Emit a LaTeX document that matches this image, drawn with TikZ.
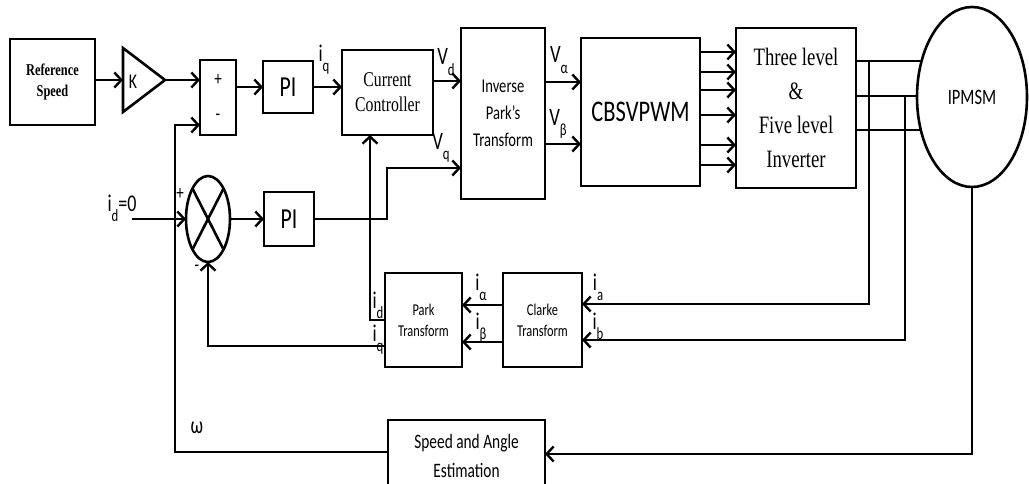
\documentclass[tikz,border=0pt]{standalone}
\usepackage{fontspec}
\setmainfont{Liberation Serif}[FakeStretch=0.75]
\newfontfamily\sansf{Carlito}[FakeStretch=0.75]
\usetikzlibrary{arrows.meta,shapes.geometric,backgrounds}
\newcommand\fsz[2]{\fontsize{#1}{#2}\selectfont}
\newcommand\subl[2]{#1\raisebox{-0.42em}{\fsz{17}{17}#2}}
\tikzset{
  ln/.style={line width=2.6pt, line join=miter},
  box/.style={draw, ln, inner sep=0pt, outer sep=0pt, align=center},
  arr/.style={ln, -{Straight Barb[length=7pt,width=15pt,line width=2.4pt]}},
  lab/.style={inner sep=0pt, font=\sansf\fsz{24}{24}},
  vlab/.style={inner sep=0pt, font=\sansf\fsz{25}{25}},
  sgn/.style={inner sep=0pt, font=\sansf\fsz{20}{20}}
}
\begin{document}
\begin{tikzpicture}[x=1pt,y=-1pt]
\useasboundingbox (0,0) rectangle (1029,483);
\clip (0,0) rectangle (1029,483);

% helper levels
\coordinate (y81) at (0,81);
\coordinate (y82) at (0,82);
\coordinate (y125) at (0,125);
\coordinate (y144) at (0,144);
\coordinate (y168) at (0,168);
\coordinate (y304) at (0,304);
\coordinate (y305) at (0,305);
\coordinate (y320) at (0,320);
\coordinate (y340) at (0,340);
\coordinate (y342) at (0,342);
\coordinate (y346) at (0,346);
\coordinate (y452) at (0,452);
\coordinate (y454) at (0,454);
\coordinate (x370) at (370,0);

% blocks
\node[box, minimum width=85, minimum height=86, font=\bfseries\fsz{16.5}{21}] (ref) at (52.5,82) {Reference\\Speed};
\draw[ln] (123,48) -- (165,80) -- (123,112) -- cycle;
\coordinate (kin) at (123,80);
\coordinate (kout) at (165,80);
\node[inner sep=0pt, font=\sansf\fsz{21}{21}] (k) at (133,82) {K};
\node[box, minimum width=36, minimum height=75] (sum) at (218,97.5) {};
\node[sgn] (plus) at (218,80) {+};
\node[sgn] (minus) at (218,117) {-};
\node[box, minimum width=50, minimum height=52, font=\sansf\fsz{29}{29}] (pi1) at (288,87) {PI};
\node[box, minimum width=91, minimum height=85, font=\fsz{21}{25}] (cc) at (387.5,92.5) {Current\\Controller};
\node[box, minimum width=84, minimum height=171, font=\sansf\fsz{19.5}{27}] (ipt) at (503,113.5) {Inverse\\Park’s\\Transform};
\node[box, minimum width=119, minimum height=148, font=\sansf\fsz{30}{30}] (cbs) at (640.5,112) {CBSVPWM};
\node[box, minimum width=120, minimum height=160, font=\fsz{25}{34}] (inv) at (796,108) {Three level\\\&\\Five level\\Inverter};
\node[draw, ln, ellipse, minimum width=110, minimum height=180, inner sep=0pt, outer sep=0pt, fill=white, font=\sansf\fsz{22}{22}] (mot) at (972,97) {IPMSM};

\node[draw, ln, ellipse, minimum width=44, minimum height=86, inner sep=0pt, outer sep=0pt] (sumc) at (208,219) {};
\draw[ln] (sumc.63) -- (sumc.243);
\draw[ln] (sumc.117) -- (sumc.297);
\node[sgn] (cplus) at (180,194) {+};
\node[sgn] (cminus) at (197,268) {-};
\node[box, minimum width=50, minimum height=54, font=\sansf\fsz{29}{29}] (pi2) at (289,219) {PI};

\node[box, minimum width=77, minimum height=94, font=\sansf\fsz{16.5}{21}] (park) at (423.5,320) {Park\\Transform};
\node[box, minimum width=79, minimum height=94, font=\sansf\fsz{16.5}{21}] (clk) at (542.5,320) {Clarke\\Transform};
\node[box, minimum width=157, minimum height=72, font=\sansf\fsz{20.5}{29}] (spd) at (466.5,456) {Speed and Angle\\Estimation};

% forward path
\draw[arr] (ref.east |- kin) -- (kin);
\draw[arr] (kout) -- (sum.west |- kout);
\draw[arr] (sum.east |- pi1) -- (pi1.west);
\draw[arr] (pi1.east) -- (cc.west |- pi1.east);
\draw[arr] (cc.east |- y81) -- (ipt.west |- y81);
\draw[arr] (pi2.east) -- (387,219) |- (ipt.west |- y168);
\draw[arr] (ipt.east |- y82) -- (cbs.west |- y82);
\draw[arr] (ipt.east |- y144) -- (cbs.west |- y144);
\foreach \yy in {52,72,90,115,145,165}
  \draw[arr] (cbs.east |- 0,\yy) -- (inv.west |- 0,\yy);
\begin{pgfonlayer}{background}
\foreach \yy in {61,96,130}
  \draw[ln] (inv.east |- 0,\yy) -- (mot.center |- 0,\yy);
\end{pgfonlayer}

% feedback
\coordinate (tapA) at (869,61);
\coordinate (tapB) at (905,96);
\draw[arr] (tapA) |- (clk.east |- y304);
\draw[arr] (tapB) |- (clk.east |- y340);
\draw[arr] (mot.south) |- (spd.east |- y454);
\draw[arr] (clk.west |- y305) -- (park.east |- y305);
\draw[arr] (clk.west |- y342) -- (park.east |- y342);
\draw[arr] (park.west |- y320) -| (cc.south -| x370);
\draw[arr] (park.west |- y346) -| (sumc.south);
\coordinate (idz) at (132,219);
\draw[arr] (idz) -- (sumc.west);
\draw[arr] (sumc.east) -- (pi2.west);
\coordinate (wc) at (175,125);
\draw[arr] (spd.west |- y452) -| (wc) -- (sum.west |- y125);

% labels
\node[lab] (liq) at (324,60) {\subl{i}{q}};
\node[vlab] (lvd) at (446,62) {\subl{V}{d}};
\node[vlab] (lvq) at (441,148) {\subl{V}{q}};
\node[vlab] (lva) at (559,60) {\subl{V}{α}};
\node[vlab] (lvb) at (558,124) {\subl{V}{β}};
\node[lab] (lia) at (481,287) {\subl{i}{α}};
\node[lab] (lib) at (481,328) {\subl{i}{β}};
\node[lab] (lka) at (598,287) {\subl{i}{a}};
\node[lab] (lkb) at (598,326) {\subl{i}{b}};
\node[lab] (lpd) at (378,305) {\subl{i}{d}};
\node[lab] (lpq) at (378,340) {\subl{i}{q}};
\node[lab] (lid0) at (122,208) {\subl{i}{d}=0};
\node[lab] (lw) at (197,428) {ω};
\end{tikzpicture}
\end{document}
